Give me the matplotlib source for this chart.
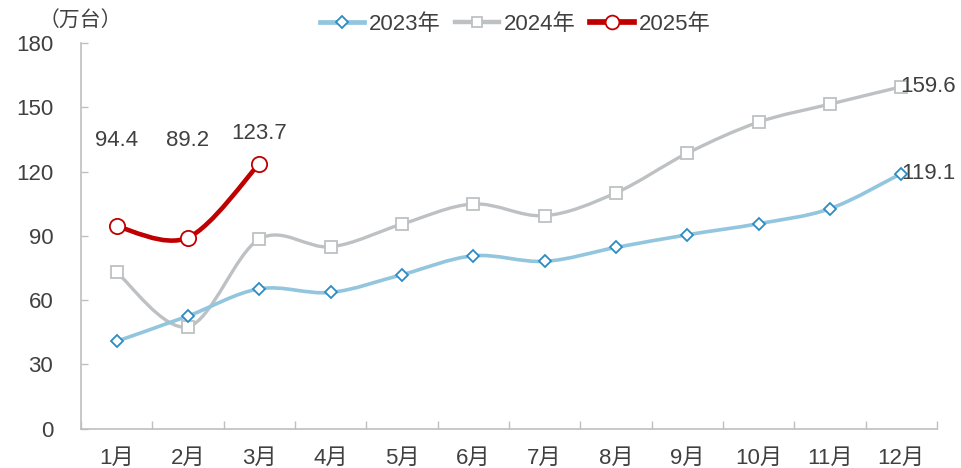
import numpy as np
import matplotlib
matplotlib.use("Agg")
import matplotlib.pyplot as plt
from matplotlib.path import Path
from matplotlib.patches import PathPatch
from matplotlib.lines import Line2D

plt.rcParams['font.family'] = ['Liberation Sans', 'Noto Sans CJK SC', 'DejaVu Sans']

# datos (万台)
meses = ["1月", "2月", "3月", "4月", "5月", "6月", "7月", "8月", "9月", "10月", "11月", "12月"]
v2023 = [40.8, 52.6, 65.3, 63.6, 71.9, 80.7, 78.1, 84.6, 90.5, 95.7, 102.7, 119.1]
v2024 = [73.0, 47.6, 88.5, 84.9, 95.5, 104.9, 99.4, 110.1, 128.6, 143.1, 151.5, 159.6]
v2025 = [94.4, 89.2, 123.7]
yticks = [0, 30, 60, 90, 120, 150, 180]

texto = "#404040"
eje = "#BFBFBF"
fs = 16


def curva_suave(ax, xs, ys, color, lw, z):
    # linea suavizada tipo Excel (bezier cubica)
    pts = np.column_stack([xs, ys]).astype(float)
    n = len(pts)
    verts = [pts[0]]
    codes = [Path.MOVETO]
    for i in range(n - 1):
        p0 = pts[i - 1] if i > 0 else pts[i]
        p1 = pts[i]
        p2 = pts[i + 1]
        p3 = pts[i + 2] if i + 2 < n else pts[i + 1]
        c1 = p1 + (p2 - p0) / 6.0
        c2 = p2 - (p3 - p1) / 6.0
        verts += [c1, c2, p2]
        codes += [Path.CURVE4] * 3
    ax.add_patch(PathPatch(Path(verts, codes), fill=False, edgecolor=color,
                           lw=lw, zorder=z, capstyle="round", joinstyle="round"))


fig = plt.figure(figsize=(9.61, 4.68), dpi=100)
ax = fig.add_axes([0.0843, 0.084, 0.8907, 0.824])

x = np.arange(len(meses))

series = [
    ("2023年", v2023, "#92C5DE", "#2B8CC4", "D", 6.5, 2.6, 3),
    ("2024年", v2024, "#BDC1C3", "#BDC1C3", "s", 8.5, 2.4, 2),
    ("2025年", v2025, "#C00000", "#C00000", "o", 11, 3.3, 4),
]
handles = []
for nombre, vals, col, mcol, mk, ms, lw, z in series:
    xs = x[:len(vals)]
    curva_suave(ax, xs, vals, col, lw, z)
    ax.plot(xs, vals, linestyle="none", marker=mk, markersize=ms,
            markerfacecolor="white", markeredgecolor=mcol, markeredgewidth=1.3, zorder=z + 0.5)
    handles.append(Line2D([], [], color=col, lw=lw + 0.8, marker=mk, markersize=ms * 0.9,
                          markerfacecolor="white", markeredgecolor=mcol, markeredgewidth=1.3))

# etiquetas de valores
ax.annotate(f"{v2025[0]}", (0, v2025[0]), xytext=(0, 62), textcoords="offset points",
            ha="center", va="center", fontsize=fs, color=texto)
ax.annotate(f"{v2025[1]}", (1, v2025[1]), xytext=(0, 70), textcoords="offset points",
            ha="center", va="center", fontsize=fs, color=texto)
ax.annotate(f"{v2025[2]}", (2, v2025[2]), xytext=(0, 22), textcoords="offset points",
            ha="center", va="center", fontsize=fs, color=texto)
ax.annotate(f"{v2024[-1]}", (11, v2024[-1]), xytext=(-1, 0), textcoords="offset points",
            ha="left", va="center", fontsize=fs, color=texto)
ax.annotate(f"{v2023[-1]}", (11, v2023[-1]), xytext=(0, 0), textcoords="offset points",
            ha="left", va="center", fontsize=fs, color=texto)

ax.set_xlim(-0.5, 11.5)
ax.set_ylim(0, 180)
ax.set_yticks(yticks)
ax.set_xticks(x)
ax.set_xticklabels(meses)
ax.set_xticks(np.arange(-0.5, 12, 1), minor=True)
ax.tick_params(axis="x", which="major", length=0, pad=14, labelsize=fs, labelcolor=texto)
ax.tick_params(axis="x", which="minor", length=6, direction="in", color=eje, width=1)
ax.tick_params(axis="y", length=5, direction="in", color=eje, width=1, pad=20,
               labelsize=fs, labelcolor=texto)

for lado in ["top", "right"]:
    ax.spines[lado].set_visible(False)
for lado in ["left", "bottom"]:
    ax.spines[lado].set_color(eje)
    ax.spines[lado].set_linewidth(1.2)

fig.text(0.04, 0.955, "（万台）", fontsize=fs - 1, color=texto, ha="left", va="center")

fig.legend(handles, [s[0] for s in series], loc="center", bbox_to_anchor=(0.536, 0.948),
           ncol=3, frameon=False, fontsize=fs, handlelength=2.0, columnspacing=0.65,
           handletextpad=0.2, labelcolor=texto)

fig.savefig("out.png", dpi=100)
